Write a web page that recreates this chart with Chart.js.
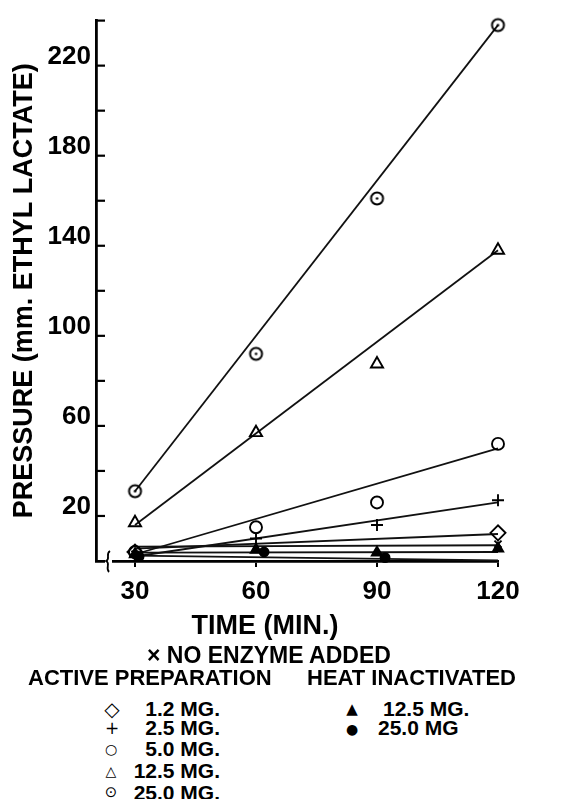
<!DOCTYPE html>
<html><head><meta charset="utf-8">
<script src="https://cdn.jsdelivr.net/npm/chart.js@4.4.0/dist/chart.umd.min.js"></script>
<style>
html,body{margin:0;padding:0;background:#fff;width:583px;height:799px;overflow:hidden;}
#wrap{position:absolute;left:0;top:0;width:583px;height:620px;}
.t{position:absolute;font-family:'Liberation Sans',Arial,sans-serif;font-weight:bold;color:#000;white-space:nowrap;line-height:1;}
.m{position:absolute;font-family:'DejaVu Sans',sans-serif;color:#000;line-height:1;transform:translate(-50%,-50%);}
</style></head><body>
<div id="wrap"><canvas id="c"></canvas></div>
<div class="t" style="left:265px;top:612px;font-size:27px;transform:translateX(-50%)">TIME (MIN.)</div>
<div class="t" style="left:147px;top:644px;font-size:23px">× NO ENZYME ADDED</div>
<div class="t" style="left:28px;top:667px;font-size:22px">ACTIVE PREPARATION</div>
<div class="t" style="left:307px;top:667px;font-size:22px">HEAT INACTIVATED</div>
<div class="m" style="left:112px;top:709px;font-size:20px">◇</div>
<div class="t" style="right:363px;top:698px;font-size:21px">1.2 MG.</div>
<div class="m" style="left:112px;top:728px;font-size:17px">+</div>
<div class="t" style="right:363px;top:717px;font-size:21px">2.5 MG.</div>
<div class="m" style="left:111px;top:749px;font-size:14px">○</div>
<div class="t" style="right:363px;top:738px;font-size:21px">5.0 MG.</div>
<div class="m" style="left:111px;top:771px;font-size:14px">△</div>
<div class="t" style="right:363px;top:760px;font-size:21px">12.5 MG.</div>
<div class="m" style="left:111px;top:792px;font-size:15px">⊙</div>
<div class="t" style="right:363px;top:782px;font-size:21px">25.0 MG.</div>
<div class="m" style="left:352px;top:709px;font-size:15px">▲</div>
<div class="t" style="left:383px;top:698px;font-size:21px">12.5 MG.</div>
<div class="m" style="left:352px;top:729px;font-size:14px">●</div>
<div class="t" style="left:378px;top:717px;font-size:21px">25.0 MG</div>
<script>
// ---- data ----
const times = [30, 60, 90, 120];
const heatTimes = [31, 62, 92, 122];
const fitTimes = [30, 120];
const xTickValues = [30, 60, 90, 120];
const yTickLabels = [20, 60, 100, 140, 180, 220];

const noEnzyme   = [3, null, null, 7.5];
const active1_2  = [4, null, null, 12.5];
const active2_5  = [2, 10, 16, 27];
const active5_0  = [4, 15, 26, 52];
const active12_5 = [17, 57, 87.5, 138];
const active25_0 = [31, 92, 161, 238];
const heat12_5   = [3, 5, 3.7, 5.5];
const heat25_0   = [2, 4, 1.5, 3.7];

const fitNoEnzyme   = [6.4, 7];
const fitActive1_2  = [5.5, 12];
const fitActive2_5  = [2, 26];
const fitActive5_0  = [3, 50];
const fitActive12_5 = [16, 138];
const fitActive25_0 = [31, 238];
const fitHeat12_5   = [3.7, 4];
const fitHeat25_0   = [2.4, 0.3];

// ---- helpers ----
function pts(xs, ys){ return ys.map((v,i)=>({x:xs[i], y:v})).filter(p=>p.y!==null); }
function dotCircle(){
  const c=document.createElement('canvas'); c.width=c.height=17;
  const g=c.getContext('2d'); g.strokeStyle='#000'; g.lineWidth=2;
  g.beginPath(); g.arc(8.5,8.5,6,0,Math.PI*2); g.stroke();
  g.fillStyle='#000'; g.beginPath(); g.arc(8.5,8.5,1.3,0,Math.PI*2); g.fill();
  return c;
}
function marker(label, xs, ys, style, r, filled){
  return {label, data:pts(xs,ys), showLine:false, pointStyle:style, pointRadius:r,
    pointBorderColor:'#000', pointBackgroundColor: filled ? '#000' : 'rgba(255,255,255,0)',
    pointBorderWidth:1.9, order:1, clip:false};
}
function fit(label, ys){
  return {label, data:pts(fitTimes, ys), showLine:true, pointRadius:0, borderColor:'#111',
    borderWidth:1.8, order:2, clip:false};
}

const datasets = [
  fit('fit none', fitNoEnzyme), fit('fit 1.2', fitActive1_2), fit('fit 2.5', fitActive2_5),
  fit('fit 5.0', fitActive5_0), fit('fit 12.5', fitActive12_5), fit('fit 25.0', fitActive25_0),
  fit('fit heat 12.5', fitHeat12_5), fit('fit heat 25.0', fitHeat25_0),
  marker('No enzyme', times, noEnzyme, 'crossRot', 5, false),
  marker('1.2 mg', times, active1_2, 'rectRot', 7.5, false),
  marker('2.5 mg', times, active2_5, 'cross', 6, false),
  marker('5.0 mg', times, active5_0, 'circle', 6, false),
  marker('12.5 mg', times, active12_5, 'triangle', 7, false),
  marker('25.0 mg', times, active25_0, dotCircle(), 8, false),
  marker('heat 12.5 mg', times, heat12_5, 'triangle', 6, true),
  marker('heat 25.0 mg', heatTimes, heat25_0, 'circle', 4.5, true)
];

const decor = {
  id:'decor',
  afterDraw(chart){
    const ctx=chart.ctx, ys=chart.scales.y, a=chart.chartArea;
    ctx.save(); ctx.strokeStyle='#000'; ctx.lineWidth=2.2;
    ys.ticks.forEach(t=>{
      if(t.value<=0) return;
      const py=ys.getPixelForValue(t.value);
      ctx.beginPath(); ctx.moveTo(a.left, py); ctx.lineTo(a.left+9, py); ctx.stroke();
    });
    // axis break mark
    const bx=a.left+12, by=a.bottom;
    ctx.fillStyle='#fff'; ctx.fillRect(bx-3, by-3, 7, 6);
    ctx.lineWidth=1.8;
    ctx.beginPath();
    ctx.moveTo(bx+2, by-10);
    ctx.bezierCurveTo(bx-3, by-7, bx+3, by-2, bx-2, by);
    ctx.bezierCurveTo(bx+3, by+2, bx-3, by+7, bx+1, by+11);
    ctx.stroke();
    ctx.restore();
  }
};

const tickFont = {family:"'Liberation Sans', Arial, sans-serif", size:26, weight:'bold'};
new Chart(document.getElementById('c'), {
  type:'scatter',
  data:{datasets},
  options:{
    responsive:true, maintainAspectRatio:false, animation:false,
    layout:{padding:{top:16, right:85, left:0, bottom:0}},
    plugins:{legend:{display:false}, tooltip:{enabled:false}},
    scales:{
      x:{type:'linear', min:20.33, max:120,
        afterBuildTicks(s){ s.ticks = xTickValues.map(v=>({value:v})); },
        afterFit(s){ s.height = 59; },
        grid:{display:true, drawOnChartArea:false, drawTicks:true, tickLength:6, color:'#000', lineWidth:2},
        border:{display:true, color:'#000', width:2.8},
        ticks:{font:tickFont, color:'#000', padding:9, maxRotation:0, autoSkip:false}
      },
      y:{type:'linear', min:0, max:240,
        afterFit(s){ s.width = 96; },
        grid:{display:false, drawTicks:false},
        border:{display:true, color:'#000', width:2.8},
        ticks:{stepSize:20, autoSkip:false, font:tickFont, color:'#000', padding:5, labelOffset:-9,
          callback:(v)=> yTickLabels.includes(v) ? String(v) : ''},
        title:{display:true, text:'PRESSURE (mm. ETHYL LACTATE)', color:'#000',
          font:{family:"'Liberation Sans', Arial, sans-serif", size:27, weight:'bold'}, padding:{top:8,bottom:0}}
      }
    }
  },
  plugins:[decor]
});
</script>
</body></html>
